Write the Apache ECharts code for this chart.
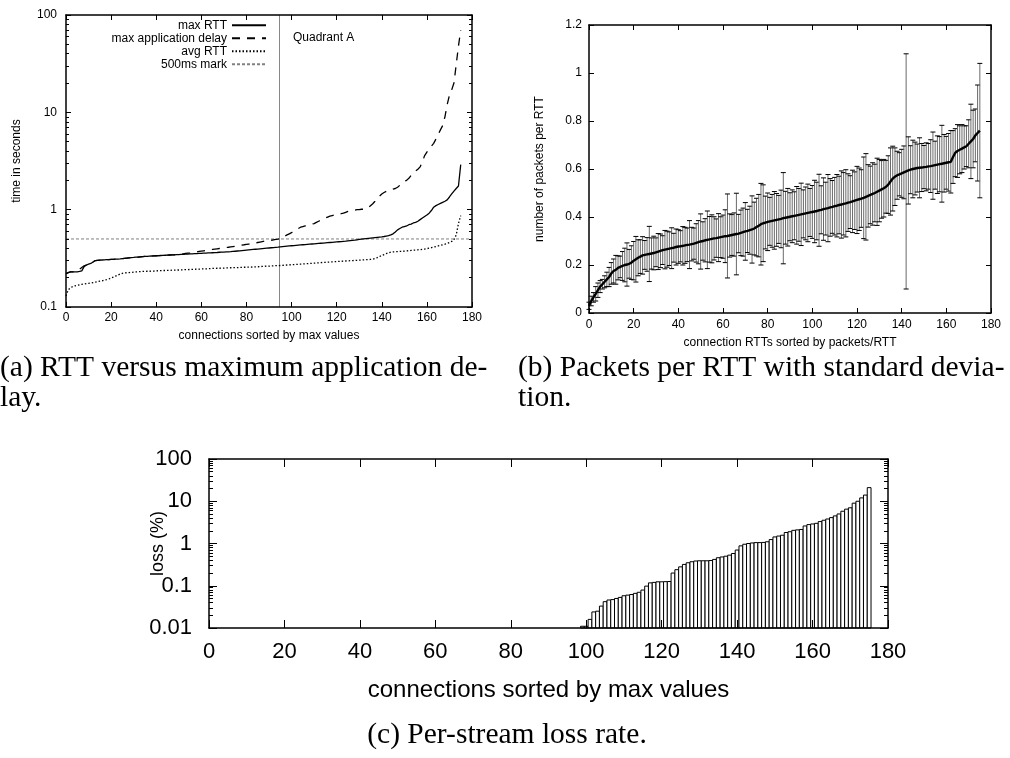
<!DOCTYPE html>
<html><head><meta charset="utf-8">
<script src="https://cdn.jsdelivr.net/npm/echarts@6/dist/echarts.min.js"></script>
<style>html,body{margin:0;padding:0;background:#fff}#c{width:1010px;height:758px}</style>
</head><body><div id="c"></div>
<script>
// ---------------- DATA ----------------
const connections = Array.from({length: 176}, (_, i) => i);

// (a) RTT vs application delay (seconds), one value per connection 0..175
const maxRtt = [
 0.22,0.225,0.23,0.23,0.23,0.23,0.232,0.235,0.26,0.27,
 0.275,0.28,0.29,0.3,0.302,0.303,0.304,0.305,0.306,0.307,
 0.308,0.309,0.31,0.311,0.312,0.314,0.316,0.318,0.32,0.322,
 0.323,0.325,0.326,0.328,0.33,0.331,0.332,0.333,0.334,0.335,
 0.336,0.337,0.338,0.339,0.34,0.341,0.342,0.343,0.344,0.345,
 0.346,0.347,0.348,0.349,0.35,0.351,0.352,0.353,0.354,0.355,
 0.356,0.357,0.358,0.359,0.36,0.361,0.362,0.363,0.365,0.366,
 0.367,0.368,0.369,0.37,0.372,0.374,0.376,0.378,0.38,0.382,
 0.384,0.386,0.388,0.39,0.392,0.394,0.396,0.398,0.4,0.402,
 0.404,0.406,0.408,0.41,0.412,0.415,0.418,0.42,0.422,0.424,
 0.426,0.428,0.43,0.432,0.434,0.436,0.438,0.44,0.442,0.444,
 0.446,0.448,0.45,0.452,0.454,0.456,0.458,0.46,0.462,0.464,
 0.466,0.468,0.47,0.472,0.474,0.477,0.48,0.483,0.486,0.49,
 0.494,0.498,0.502,0.505,0.508,0.511,0.514,0.517,0.52,0.523,
 0.526,0.53,0.535,0.54,0.55,0.565,0.59,0.62,0.64,0.66,
 0.67,0.68,0.7,0.71,0.73,0.74,0.76,0.79,0.82,0.85,
 0.88,0.92,0.98,1.06,1.1,1.13,1.16,1.19,1.22,1.26,
 1.35,1.45,1.55,1.65,1.75,2.9];
const maxAppDelay = [
 0.22,0.225,0.23,0.23,0.23,0.235,0.245,0.255,0.265,0.27,
 0.275,0.28,0.29,0.3,0.302,0.303,0.304,0.305,0.306,0.307,
 0.308,0.309,0.31,0.311,0.312,0.314,0.316,0.318,0.32,0.322,
 0.323,0.325,0.326,0.328,0.33,0.331,0.332,0.333,0.334,0.335,
 0.336,0.337,0.338,0.339,0.34,0.341,0.342,0.343,0.344,0.345,
 0.348,0.35,0.352,0.355,0.358,0.36,0.363,0.366,0.369,0.372,
 0.375,0.378,0.381,0.384,0.387,0.39,0.393,0.396,0.399,0.402,
 0.405,0.408,0.411,0.415,0.418,0.421,0.425,0.43,0.433,0.436,
 0.44,0.443,0.446,0.45,0.455,0.46,0.465,0.47,0.475,0.478,
 0.481,0.485,0.49,0.494,0.498,0.505,0.52,0.535,0.55,0.565,
 0.58,0.6,0.62,0.64,0.66,0.67,0.68,0.69,0.7,0.71,
 0.72,0.74,0.76,0.78,0.8,0.82,0.84,0.86,0.87,0.88,
 0.89,0.9,0.91,0.92,0.94,0.96,0.97,0.98,0.99,1.0,
 1.0,1.01,1.01,1.02,1.05,1.1,1.15,1.22,1.3,1.38,
 1.45,1.5,1.54,1.57,1.6,1.63,1.65,1.7,1.78,1.86,
 1.95,2.0,2.1,2.25,2.4,2.5,2.6,2.75,3.1,3.6,
 3.9,4.2,4.5,4.8,5.3,5.9,6.6,7.3,9,12,
 15,17,20,31,48,70];
const avgRtt = [
 0.13,0.15,0.158,0.162,0.165,0.167,0.169,0.171,0.172,0.174,
 0.175,0.176,0.178,0.18,0.182,0.184,0.186,0.189,0.191,0.194,
 0.198,0.203,0.208,0.213,0.218,0.222,0.224,0.225,0.226,0.227,
 0.228,0.229,0.23,0.231,0.232,0.232,0.233,0.233,0.234,0.234,
 0.235,0.236,0.236,0.237,0.237,0.238,0.238,0.239,0.239,0.24,
 0.24,0.241,0.241,0.242,0.242,0.243,0.243,0.244,0.245,0.245,
 0.246,0.246,0.247,0.247,0.248,0.249,0.249,0.25,0.25,0.251,
 0.251,0.252,0.252,0.253,0.253,0.254,0.254,0.255,0.255,0.256,
 0.256,0.257,0.257,0.258,0.258,0.259,0.26,0.261,0.262,0.263,
 0.263,0.264,0.265,0.266,0.266,0.267,0.268,0.269,0.27,0.271,
 0.272,0.273,0.274,0.275,0.276,0.277,0.278,0.279,0.28,0.281,
 0.282,0.283,0.284,0.286,0.287,0.288,0.289,0.29,0.291,0.292,
 0.293,0.294,0.295,0.296,0.297,0.298,0.299,0.3,0.301,0.302,
 0.303,0.304,0.305,0.306,0.307,0.308,0.31,0.315,0.322,0.33,
 0.338,0.346,0.354,0.36,0.366,0.368,0.37,0.371,0.372,0.373,
 0.375,0.377,0.379,0.381,0.383,0.385,0.387,0.389,0.391,0.394,
 0.398,0.402,0.407,0.412,0.418,0.424,0.43,0.436,0.442,0.45,
 0.46,0.472,0.49,0.55,0.72,0.87];
const markValue = 0.5;     // 500ms mark
const quadrantX = 94.5;    // quadrant divider
const timeTickLabels = ['0.1', '1', '10', '100'];

// (b) packets per RTT, mean and standard deviation per connection
const pktMean = [
 0.03,0.05,0.065,0.08,0.095,0.11,0.12,0.13,0.14,0.15,
 0.165,0.175,0.18,0.188,0.192,0.196,0.2,0.202,0.205,0.21,
 0.218,0.224,0.23,0.235,0.24,0.242,0.244,0.246,0.248,0.25,
 0.253,0.256,0.259,0.262,0.264,0.266,0.268,0.27,0.272,0.275,
 0.277,0.278,0.28,0.282,0.284,0.285,0.287,0.289,0.292,0.295,
 0.298,0.3,0.303,0.305,0.307,0.309,0.311,0.312,0.314,0.316,
 0.318,0.32,0.321,0.323,0.325,0.327,0.329,0.331,0.334,0.337,
 0.34,0.342,0.345,0.348,0.352,0.358,0.364,0.37,0.374,0.377,
 0.38,0.382,0.384,0.386,0.388,0.39,0.392,0.395,0.397,0.399,
 0.401,0.403,0.405,0.407,0.409,0.411,0.413,0.415,0.417,0.419,
 0.421,0.423,0.425,0.428,0.43,0.433,0.435,0.437,0.44,0.442,
 0.445,0.447,0.45,0.452,0.455,0.457,0.46,0.462,0.465,0.468,
 0.471,0.474,0.477,0.48,0.484,0.488,0.492,0.496,0.5,0.505,
 0.51,0.515,0.52,0.526,0.535,0.548,0.56,0.568,0.574,0.578,
 0.582,0.586,0.59,0.594,0.597,0.6,0.602,0.604,0.605,0.606,
 0.608,0.609,0.611,0.612,0.614,0.616,0.618,0.62,0.622,0.624,
 0.626,0.628,0.63,0.65,0.668,0.675,0.68,0.685,0.69,0.695,
 0.705,0.715,0.725,0.74,0.75,0.76];
const pktStd = [
 0.015,0.02,0.02,0.03,0.03,0.025,0.02,0.025,0.03,0.04,
 0.045,0.05,0.06,0.05,0.045,0.06,0.07,0.09,0.06,0.07,
 0.08,0.095,0.075,0.07,0.078,0.06,0.07,0.115,0.065,0.07,
 0.06,0.075,0.07,0.06,0.08,0.075,0.07,0.085,0.06,0.075,
 0.07,0.065,0.08,0.075,0.07,0.1,0.07,0.065,0.08,0.09,
 0.115,0.08,0.09,0.12,0.095,0.1,0.09,0.08,0.1,0.085,
 0.09,0.11,0.175,0.09,0.085,0.09,0.17,0.08,0.095,0.1,
 0.12,0.09,0.1,0.14,0.11,0.12,0.13,0.17,0.16,0.11,
 0.12,0.1,0.11,0.12,0.11,0.1,0.12,0.19,0.11,0.12,
 0.1,0.11,0.1,0.12,0.11,0.13,0.1,0.11,0.12,0.1,
 0.11,0.13,0.12,0.15,0.1,0.13,0.11,0.14,0.12,0.11,
 0.12,0.13,0.12,0.14,0.13,0.14,0.12,0.11,0.13,0.12,
 0.14,0.13,0.12,0.17,0.18,0.13,0.12,0.13,0.12,0.14,
 0.13,0.12,0.12,0.11,0.12,0.14,0.135,0.12,0.1,0.09,
 0.1,0.11,0.49,0.14,0.1,0.12,0.11,0.1,0.125,0.1,
 0.09,0.1,0.095,0.11,0.14,0.1,0.12,0.115,0.16,0.12,
 0.11,0.12,0.13,0.11,0.1,0.11,0.1,0.1,0.09,0.085,
 0.1,0.155,0.12,0.11,0.2,0.28];

// (c) per-stream loss rate (%); connections before lossStart have no loss
const lossStart = 99;
const lossValues = [
 0.011,0.011,0.016,0.024,0.025,0.033,0.042,0.046,0.047,0.05,
 0.053,0.058,0.06,0.062,0.066,0.07,0.079,0.098,0.117,0.12,
 0.124,0.124,0.125,0.126,0.2,0.24,0.28,0.32,0.35,0.37,
 0.385,0.39,0.39,0.39,0.395,0.42,0.46,0.48,0.5,0.53,
 0.58,0.7,0.88,0.96,1.0,1.03,1.05,1.05,1.06,1.1,
 1.24,1.43,1.5,1.57,1.82,1.9,2.05,2.1,2.15,2.6,
 2.8,2.9,3.0,3.3,3.55,3.8,4.1,4.5,5.0,5.8,
 6.5,7.0,9.0,10,12,14,21];
const lossTickLabels = ['0.01', '0.1', '1', '10', '100'];

// ---------------- CHART ----------------
const FONT = '"Liberation Sans", Arial, Helvetica, sans-serif';
const SERIF = '"Liberation Serif", "Times New Roman", serif';
const K = '#000';
const lg = Math.log10;

function minorLogTicks(minExp, maxExp) {
  const out = [];
  for (let k = minExp; k < maxExp; k++) for (let m = 2; m <= 9; m++) out.push(k + lg(m));
  return out;
}

function xAx(grid, pos, o) {
  return {
    gridIndex: grid, type: 'value', position: pos, min: 0, max: 180, interval: 20, z: 10,
    axisLine: {show: true, onZero: false, lineStyle: {color: K, width: 1.5}},
    axisTick: {show: true, inside: true, length: o.tick, lineStyle: {color: K, width: 1}},
    axisLabel: {show: !!o.labels, color: K, fontSize: o.fs, fontFamily: FONT, margin: o.margin},
    splitLine: {show: false},
    name: o.name || '', nameLocation: 'middle', nameGap: o.nameGap || 0, nameMoveOverlap: false,
    nameTextStyle: {color: K, fontSize: o.nameFs, fontFamily: FONT}
  };
}
function yAx(grid, pos, o) {
  const a = {
    gridIndex: grid, type: 'value', position: pos, min: o.min, max: o.max, z: 10,
    axisLine: {show: o.line !== false, onZero: false, lineStyle: {color: K, width: 1.5}},
    axisTick: {show: true, inside: true, length: o.tick, lineStyle: {color: K, width: 1}},
    axisLabel: {show: !!o.labels, color: K, fontSize: o.fs, fontFamily: FONT, margin: o.margin},
    splitLine: {show: false},
    name: o.name || '', nameLocation: 'middle', nameGap: o.nameGap || 0, nameMoveOverlap: false,
    nameTextStyle: {color: K, fontSize: o.nameFs, fontFamily: FONT}
  };
  if (o.interval) a.interval = o.interval;
  if (o.formatter) a.axisLabel.formatter = o.formatter;
  if (o.custom) a.axisTick.customValues = o.custom;
  return a;
}

const minorA = minorLogTicks(-1, 2);
const minorC = minorLogTicks(-2, 2);

const option = {
  animation: false,
  backgroundColor: '#fff',
  textStyle: {fontFamily: FONT},
  grid: [
    {left: 66, top: 15, width: 406, height: 292, outerBoundsMode: 'none'},
    {left: 589, top: 25, width: 402, height: 288, outerBoundsMode: 'none'},
    {left: 209, top: 459, width: 679, height: 169, outerBoundsMode: 'none'}
  ],
  xAxis: [
    xAx(0, 'bottom', {labels: true, fs: 12, margin: 5, tick: 5, name: 'connections sorted by max values', nameGap: 23, nameFs: 12}),
    xAx(0, 'top', {tick: 5}),
    xAx(1, 'bottom', {labels: true, fs: 12, margin: 6, tick: 5, name: 'connection RTTs sorted by packets/RTT', nameGap: 24, nameFs: 12}),
    xAx(1, 'top', {tick: 5}),
    xAx(2, 'bottom', {labels: true, fs: 22, margin: 13, tick: 8, name: 'connections sorted by max values', nameGap: 50, nameFs: 24}),
    xAx(2, 'top', {tick: 8})
  ],
  yAxis: [
    yAx(0, 'left', {min: -1, max: 2, interval: 1, labels: true, fs: 12, margin: 9, tick: 5,
      formatter: v => timeTickLabels[Math.round(v + 1)], name: 'time in seconds', nameGap: 43, nameFs: 12}),
    yAx(0, 'right', {min: -1, max: 2, interval: 1, tick: 5}),
    yAx(0, 'left', {min: -1, max: 2, tick: 3, line: false, custom: minorA}),
    yAx(0, 'right', {min: -1, max: 2, tick: 3, line: false, custom: minorA}),
    yAx(1, 'left', {min: 0, max: 1.2, interval: 0.2, labels: true, fs: 12, margin: 7, tick: 5,
      name: 'number of packets per RTT', nameGap: 43, nameFs: 12}),
    yAx(1, 'right', {min: 0, max: 1.2, interval: 0.2, tick: 5}),
    yAx(2, 'left', {min: -2, max: 2, interval: 1, labels: true, fs: 22, margin: 17, tick: 8,
      formatter: v => lossTickLabels[Math.round(v + 2)], name: 'loss (%)', nameGap: 42, nameFs: 18}),
    yAx(2, 'right', {min: -2, max: 2, interval: 1, tick: 8}),
    yAx(2, 'left', {min: -2, max: 2, tick: 4, line: false, custom: minorC}),
    yAx(2, 'right', {min: -2, max: 2, tick: 4, line: false, custom: minorC})
  ],
  legend: {
    orient: 'vertical', align: 'right', right: 1010 - 267, top: 19, padding: 0,
    itemWidth: 34, itemHeight: 12, itemGap: 0.5, selectedMode: false,
    itemStyle: {opacity: 0},
    textStyle: {color: K, fontSize: 12, fontFamily: FONT, lineHeight: 12.5},
    data: ['max RTT', 'max application delay', 'avg RTT', '500ms mark']
  },
  series: [
    {type: 'line', name: '500ms mark', xAxisIndex: 0, yAxisIndex: 0, symbol: 'none', z: 3,
     data: [[0, lg(markValue)], [180, lg(markValue)]],
     lineStyle: {color: '#808080', width: 1, type: [3, 2]}, itemStyle: {color: '#808080'},
     markLine: {silent: true, symbol: 'none', label: {show: false},
       lineStyle: {color: '#888', width: 1, type: 'solid'}, data: [{xAxis: quadrantX}]}},
    {type: 'line', name: 'max RTT', xAxisIndex: 0, yAxisIndex: 0, symbol: 'none', z: 5,
     data: connections.map((c, i) => [c, lg(maxRtt[i])]),
     lineStyle: {color: K, width: 1.3}, itemStyle: {color: K}},
    {type: 'line', name: 'max application delay', xAxisIndex: 0, yAxisIndex: 0, symbol: 'none', z: 5,
     data: connections.map((c, i) => [c, lg(maxAppDelay[i])]),
     lineStyle: {color: K, width: 1.3, type: [8, 7]}, itemStyle: {color: K}},
    {type: 'line', name: 'avg RTT', xAxisIndex: 0, yAxisIndex: 0, symbol: 'none', z: 5,
     data: connections.map((c, i) => [c, lg(avgRtt[i])]),
     lineStyle: {color: K, width: 1.3, type: [1.5, 2]}, itemStyle: {color: K}},

    {type: 'custom', name: 'std dev', xAxisIndex: 2, yAxisIndex: 4, z: 3,
     data: connections.map((c, i) => [c, pktMean[i] - pktStd[i], pktMean[i] + pktStd[i]]),
     encode: {x: 0, y: [1, 2]},
     renderItem: (params, api) => {
       const x = api.value(0);
       const lo = api.coord([x, api.value(1)]);
       const hi = api.coord([x, api.value(2)]);
       const cap = 2.5;
       return {type: 'group', children: [
         {type: 'line', shape: {x1: lo[0], y1: lo[1], x2: hi[0], y2: hi[1]}, style: {stroke: '#6a6a6a', lineWidth: 1}},
         {type: 'line', shape: {x1: lo[0] - cap, y1: lo[1], x2: lo[0] + cap, y2: lo[1]}, style: {stroke: K, lineWidth: 1}},
         {type: 'line', shape: {x1: hi[0] - cap, y1: hi[1], x2: hi[0] + cap, y2: hi[1]}, style: {stroke: K, lineWidth: 1}}
       ]};
     }},
    {type: 'line', name: 'packets per RTT', xAxisIndex: 2, yAxisIndex: 4, symbol: 'none', z: 5,
     data: connections.map((c, i) => [c, pktMean[i]]),
     lineStyle: {color: K, width: 2.4}, itemStyle: {color: K}},

    {type: 'custom', name: 'loss', xAxisIndex: 4, yAxisIndex: 6, z: 3,
     data: lossValues.map((v, k) => [lossStart + k, lg(v)]),
     encode: {x: 0, y: 1},
     renderItem: (params, api) => {
       const x = api.value(0);
       const tl = api.coord([x - 0.5, api.value(1)]);
       const br = api.coord([x + 0.5, -2]);
       return {type: 'rect', shape: {x: tl[0], y: tl[1], width: br[0] - tl[0], height: br[1] - tl[1]},
               style: {fill: '#fff', stroke: K, lineWidth: 1}};
     }}
  ],
  graphic: [
    {type: 'text', x: 293, y: 37.5, style: {text: 'Quadrant A', fill: K, font: '12px ' + FONT, verticalAlign: 'middle'}},
    {type: 'text', x: 0, y: 368, style: {text: '(a) RTT versus maximum application de-', fill: K, font: '29.5px ' + SERIF, verticalAlign: 'middle'}},
    {type: 'text', x: 0, y: 398, style: {text: 'lay.', fill: K, font: '29.5px ' + SERIF, verticalAlign: 'middle'}},
    {type: 'text', x: 518, y: 368, style: {text: '(b) Packets per RTT with standard devia-', fill: K, font: '29.5px ' + SERIF, verticalAlign: 'middle'}},
    {type: 'text', x: 518, y: 398, style: {text: 'tion.', fill: K, font: '29.5px ' + SERIF, verticalAlign: 'middle'}},
    {type: 'text', x: 507, y: 735, style: {text: '(c) Per-stream loss rate.', fill: K, font: '29.5px ' + SERIF, align: 'center', verticalAlign: 'middle'}}
  ]
};

const chart = echarts.init(document.getElementById('c'), null, {renderer: 'canvas'});
chart.setOption(option);
</script>
</body></html>
